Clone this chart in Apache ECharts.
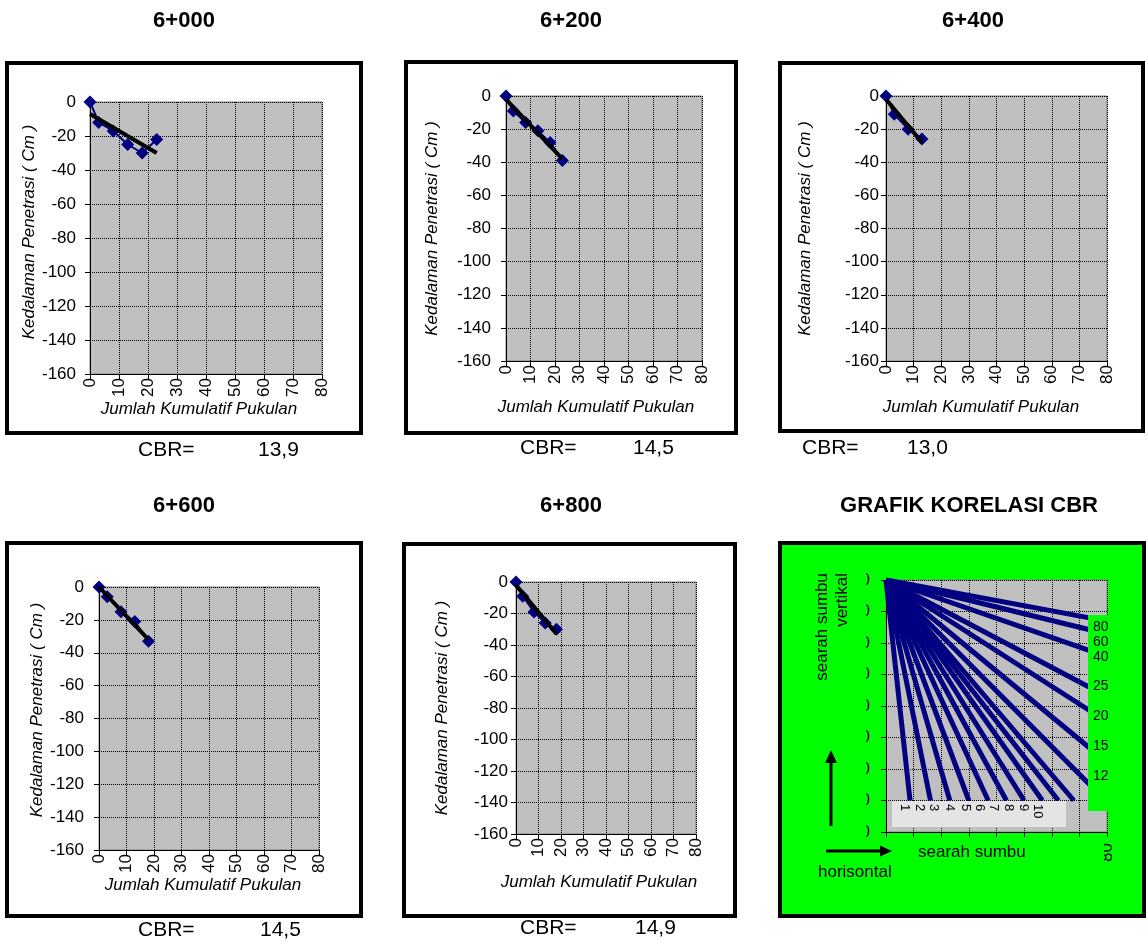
<!DOCTYPE html>
<html><head><meta charset="utf-8">
<script src="https://cdn.jsdelivr.net/npm/echarts@6/dist/echarts.min.js"></script>
<style>html,body{margin:0;padding:0;background:#fff}#c{width:1148px;height:944px}</style>
</head><body><div id="c"></div>
<script>
// ---------- data ----------
const stations = ['6+000', '6+200', '6+400', '6+600', '6+800'];
const cbrValues = ['13,9', '14,5', '13,0', '14,5', '14,9'];
const corrTitle = 'GRAFIK KORELASI CBR';

const blows1 = [0, 3, 8, 13, 18, 23];  const depth1 = [0, -12, -17, -25, -30, -22];
const blows2 = [0, 3, 8, 13, 18, 23];  const depth2 = [0, -9, -16, -21, -28, -39];
const blows3 = [0, 3, 8, 13];          const depth3 = [0, -11, -20, -26];
const blows4 = [0, 3, 8, 13, 18];      const depth4 = [0, -6, -15, -21, -33];
const blows5 = [0, 3, 8, 13, 18];      const depth5 = [0, -9, -19, -26, -30];

const trendX1 = [0, 23]; const trendY1 = [-7, -30];
const trendX2 = [0, 23]; const trendY2 = [-2, -38];
const trendX3 = [0, 13]; const trendY3 = [-2, -28];
const trendX4 = [0, 18]; const trendY4 = [0, -32];
const trendX5 = [0, 18]; const trendY5 = [-2, -33];

const xMin = 0, xMax = 80, xStep = 10;
const yMin = -160, yMax = 0, yStep = 20;

// correlation chart lines (all start at origin)
const corrLabels = ['1','2','3','4','5','6','7','8','9','10','12','15','20','25','40','60','80'];
const corrEndX = [8.7, 16.1, 23.1, 30.0, 37.0, 43.6, 50.0, 56.6, 62.4, 68.0, 80, 80, 80, 80, 80, 80, 80];
const corrEndY = [-140, -140, -140, -140, -140, -140, -140, -140, -140, -140, -141, -115.7, -90, -74, -48.6, -34.3, -26.1];
const corrBottomLabels = ['1','2','3','4','5','6','7','8','9','10'];
const corrRightLabels = ['80','60','40','25','20','15','12'];

// ---------- layout ----------
const FONT = '"Liberation Sans", Arial, sans-serif';
const NAVY = '#000080';
const grids = [
  {left: 90,  top: 102, width: 232, height: 272},
  {left: 506, top: 96,  width: 196, height: 265},
  {left: 886, top: 96,  width: 221, height: 265},
  {left: 99,  top: 587, width: 220, height: 263},
  {left: 516, top: 582, width: 180, height: 252},
  {left: 886, top: 580, width: 221, height: 252}
];
const yLabelMargin = [14, 15, 7, 15, 8, 16];
const xLabelMargin = [4, 4, 4, 4, 4, 11];
const yNameGap = [45, 65, 72, 47, 65];
const yNamePad = [[0,0,0,12],[0,0,0,0],[0,0,0,0],[0,0,0,17],[0,0,0,0]];
const xNameGap = [26, 38, 38, 27, 40];
const xNamePad = [[0,14,0,0],[0,16,0,0],[0,31,0,0],[0,12,0,0],[0,14,0,0]];
const frames = [
  [7, 63, 354, 370], [406, 62, 330, 371], [780, 63, 363, 368],
  [7, 543, 354, 373], [404, 544, 331, 372], [780, 543, 364, 373]
];
const titlePos = [[184, 21], [571, 21], [973, 21], [184, 506], [571, 506], [969, 506]];
const cbrPos = [[138, 258, 450], [520, 633, 448], [802, 907, 448], [138, 260, 930], [520, 635, 928]];

const blows = [blows1, blows2, blows3, blows4, blows5];
const depths = [depth1, depth2, depth3, depth4, depth5];
const trendX = [trendX1, trendX2, trendX3, trendX4, trendX5];
const trendY = [trendY1, trendY2, trendY3, trendY4, trendY5];

const gridOpts = grids.map(g => Object.assign({show: true, backgroundColor: '#C0C0C0', borderColor: '#808080', borderWidth: 1}, g));

const xAxes = [], yAxes = [], series = [];
for (let i = 0; i < 6; i++) {
  const isCorr = i === 5;
  xAxes.push({
    gridIndex: i, type: 'value', min: xMin, max: xMax, interval: xStep,
    axisLine: {show: true, onZero: false, lineStyle: {color: '#000', width: 1}},
    axisTick: {show: true, length: 5, lineStyle: {color: '#000'}},
    axisLabel: {rotate: 90, margin: xLabelMargin[i], color: '#000', fontSize: 17, fontFamily: FONT, hideOverlap: false, interval: 0},
    splitLine: {show: true, lineStyle: {color: '#000', width: 1, type: [1, 1]}},
    name: isCorr ? '' : 'Jumlah Kumulatif Pukulan',
    nameLocation: 'middle', nameGap: isCorr ? 0 : xNameGap[i],
    nameTextStyle: isCorr ? {} : {fontStyle: 'italic', fontSize: 17, color: '#000', fontFamily: FONT, padding: xNamePad[i]}
  });
  yAxes.push({
    gridIndex: i, type: 'value', min: yMin, max: yMax, interval: yStep,
    axisLine: {show: true, onZero: false, lineStyle: {color: '#000', width: 1}},
    axisTick: {show: true, length: 5, lineStyle: {color: '#000'}},
    axisLabel: {margin: yLabelMargin[i], color: '#000', fontSize: 17, fontFamily: FONT},
    splitLine: {show: true, lineStyle: {color: '#000', width: 1, type: [1, 1]}},
    name: isCorr ? '' : 'Kedalaman Penetrasi ( Cm )',
    nameLocation: 'middle', nameGap: isCorr ? 0 : yNameGap[i],
    nameTextStyle: isCorr ? {} : {fontStyle: 'italic', fontSize: 17, color: '#000', fontFamily: FONT, padding: yNamePad[i]}
  });
}

for (let i = 0; i < 5; i++) {
  series.push({
    type: 'line', xAxisIndex: i, yAxisIndex: i,
    data: blows[i].map((b, k) => [b, depths[i][k]]),
    symbol: 'diamond', symbolSize: 13,
    lineStyle: {color: NAVY, width: 2}, itemStyle: {color: NAVY},
    z: 3, silent: true
  });
  series.push({
    type: 'line', xAxisIndex: i, yAxisIndex: i,
    data: trendX[i].map((b, k) => [b, trendY[i][k]]),
    symbol: 'none', lineStyle: {color: '#000', width: 4, cap: 'butt'},
    z: 4, silent: true
  });
}
corrLabels.forEach((lab, k) => {
  series.push({
    type: 'line', name: lab, xAxisIndex: 5, yAxisIndex: 5,
    data: [[0, 0], [corrEndX[k], corrEndY[k]]],
    symbol: 'none', lineStyle: {color: NAVY, width: 5, cap: 'butt'},
    z: 3, silent: true
  });
});

// ---------- graphic decorations ----------
const graphic = [];
frames.forEach((f, i) => {
  graphic.push({
    type: 'rect', z: i === 5 ? -1 : 50, silent: true,
    shape: {x: f[0], y: f[1], width: f[2], height: f[3]},
    style: {fill: i === 5 ? '#00FF00' : null, stroke: '#000', lineWidth: 4}
  });
});
const titles = stations.concat([corrTitle]);
titles.forEach((t, i) => {
  graphic.push({type: 'text', x: titlePos[i][0], y: titlePos[i][1], z: 60,
    style: {text: t, font: 'bold 22px ' + FONT, fill: '#000', align: 'center', verticalAlign: 'middle'}});
});
cbrValues.forEach((v, i) => {
  graphic.push({type: 'text', x: cbrPos[i][0], y: cbrPos[i][2], z: 60,
    style: {text: 'CBR=', font: '21px ' + FONT, fill: '#000', align: 'left', verticalAlign: 'middle'}});
  graphic.push({type: 'text', x: cbrPos[i][1], y: cbrPos[i][2], z: 60,
    style: {text: v, font: '21px ' + FONT, fill: '#000', align: 'left', verticalAlign: 'middle'}});
});
// correlation panel overlays
const G = '#00FF00';
graphic.push({type: 'rect', z: 100, silent: true, shape: {x: 782, y: 566, width: 84, height: 280}, style: {fill: G}});
graphic.push({type: 'rect', z: 100, silent: true, shape: {x: 782, y: 839, width: 322, height: 36}, style: {fill: G}});
graphic.push({type: 'rect', z: 100, silent: true, shape: {x: 1088, y: 615, width: 24, height: 196}, style: {fill: G}});
graphic.push({type: 'rect', z: 100, silent: true, shape: {x: 892, y: 801, width: 174, height: 26}, style: {fill: '#E4E4E4'}});
const bottomLabelX = [905, 920, 934, 950, 966, 980, 994, 1009, 1024, 1038];
corrBottomLabels.forEach((t, k) => {
  graphic.push({type: 'text', x: bottomLabelX[k], y: 804, rotation: -Math.PI / 2, z: 101,
    style: {text: t, font: '13px ' + FONT, fill: '#000', align: 'left', verticalAlign: 'middle'}});
});
const rightLabelY = [627, 642, 657, 686, 716, 746, 776];
corrRightLabels.forEach((t, k) => {
  graphic.push({type: 'text', x: 1093, y: rightLabelY[k], z: 101,
    style: {text: t, font: '14px ' + FONT, fill: '#000', align: 'left', verticalAlign: 'middle'}});
});
graphic.push({type: 'text', x: 832, y: 573, rotation: Math.PI / 2, z: 101,
  style: {text: 'searah sumbu\nvertikal', font: '17px ' + FONT, lineHeight: 20, fill: '#000', align: 'right', verticalAlign: 'middle'}});
graphic.push({type: 'text', x: 918, y: 852, z: 101,
  style: {text: 'searah sumbu', font: '17px ' + FONT, fill: '#000', align: 'left', verticalAlign: 'middle'}});
graphic.push({type: 'text', x: 818, y: 872, z: 101,
  style: {text: 'horisontal', font: '17px ' + FONT, fill: '#000', align: 'left', verticalAlign: 'middle'}});
graphic.push({type: 'line', z: 101, shape: {x1: 831, y1: 826, x2: 831, y2: 760}, style: {stroke: '#000', lineWidth: 3}});
graphic.push({type: 'polygon', z: 101, shape: {points: [[825, 763], [837, 763], [831, 750]]}, style: {fill: '#000'}});
graphic.push({type: 'line', z: 101, shape: {x1: 826, y1: 851, x2: 882, y2: 851}, style: {stroke: '#000', lineWidth: 3}});
graphic.push({type: 'polygon', z: 101, shape: {points: [[880, 845.5], [880, 856.5], [892, 851]]}, style: {fill: '#000'}});

const chart = echarts.init(document.getElementById('c'), null, {renderer: 'canvas'});
chart.setOption({
  animation: false,
  backgroundColor: '#fff',
  grid: gridOpts,
  xAxis: xAxes,
  yAxis: yAxes,
  series: series,
  graphic: graphic
});
</script></body></html>
